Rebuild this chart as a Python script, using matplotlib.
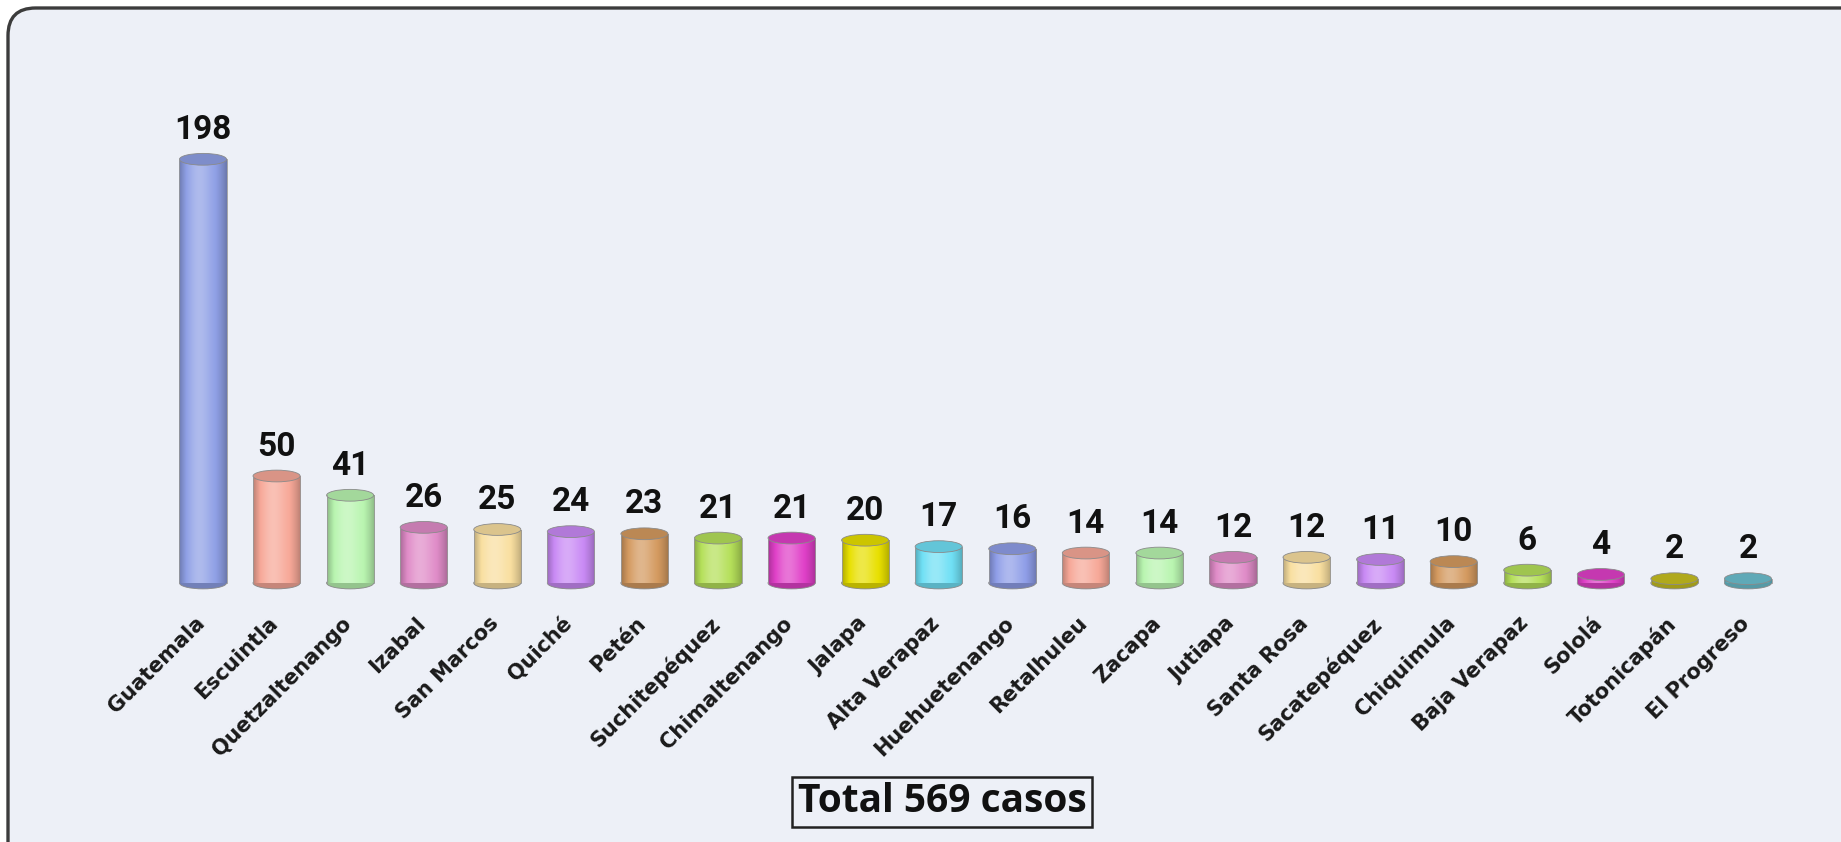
import matplotlib
matplotlib.use("Agg")
import matplotlib.pyplot as plt
import numpy as np
from matplotlib.patches import Ellipse, FancyBboxPatch
from matplotlib.colors import to_rgb

departamentos = ['Guatemala', 'Escuintla', 'Quetzaltenango', 'Izabal', 'San Marcos',
                 'Quiché', 'Petén', 'Suchitepéquez', 'Chimaltenango', 'Jalapa',
                 'Alta Verapaz', 'Huehuetenango', 'Retalhuleu', 'Zacapa', 'Jutiapa',
                 'Santa Rosa', 'Sacatepéquez', 'Chiquimula', 'Baja Verapaz', 'Sololá',
                 'Totonicapán', 'El Progreso']
casos = [198, 50, 41, 26, 25, 24, 23, 21, 21, 20, 17, 16, 14, 14, 12, 12, 11, 10, 6, 4, 2, 2]
colores = ['#8fa0e6', '#f7a898', '#b9f5b0', '#e08cc8', '#f9dfa0', '#c98af5', '#d49a60',
           '#b5e05a', '#e040c8', '#e8e000', '#70e0f5', '#8f9ee8', '#f7a898', '#b9f5b0',
           '#e08cc8', '#f9dfa0', '#c98af5', '#d49a60', '#b5e05a', '#e040c8', '#c8c020',
           '#6cc0d0']
total_texto = 'Total 569 casos'

W, H = 1841, 842
fig = plt.figure(figsize=(W / 100, H / 100), dpi=100)
fig.patch.set_facecolor('white')

# rounded panel, runs off the right and bottom edges
panel = FancyBboxPatch((8 / W, -1.0), 3.0, (H - 8) / H + 1.0,
                       boxstyle='round,pad=0,rounding_size=0.015',
                       transform=fig.transFigure, facecolor='#edf0f7',
                       edgecolor='#3c3c3c', linewidth=2.4, mutation_aspect=W / H,
                       zorder=-5)
fig.patches.append(panel)

ax = fig.add_axes([0, 0, 1, 1])
ax.set_facecolor('none')
ax.axis('off')

dx = 73.57          # px per category
dy = 2.14           # px per case
x0, base = 203, 583  # px position of first bar / baseline (from top)
ax.set_xlim(-x0 / dx, (W - x0) / dx)
ax.set_ylim(-(H - base) / dy, base / dy)

width = 0.64
cap = 5.5
ind = np.arange(len(casos))


def shade(c, k):
    c = np.array(to_rgb(c))
    if k >= 0:
        return c + (1 - c) * k
    return c * (1 + k)


bars = ax.bar(ind, casos, width, color='none', edgecolor='none')
for rect, c, i in zip(bars, colores, ind):
    x = rect.get_x()
    h = rect.get_height()
    # horizontal gradient for the cylinder body
    t = np.linspace(0, 1, 64)
    k = 0.28 * np.exp(-((t - 0.42) / 0.25) ** 2) - 0.25 * (np.abs(t - 0.5) * 2) ** 3
    grad = np.array([np.clip(shade(c, kk), 0, 1) for kk in k])[None, :, :]
    im = ax.imshow(grad, extent=[x, x + width, 0, h], aspect='auto', zorder=2,
                   interpolation='bilinear')
    im.set_clip_path(rect)
    ax.add_patch(Ellipse((i, 0), width, cap, facecolor=shade(c, -0.2),
                         edgecolor='#888888', linewidth=0.6, zorder=1))
    ax.add_patch(Ellipse((i, h), width, cap, facecolor=shade(c, -0.12),
                         edgecolor='#8a8a8a', linewidth=0.6, zorder=3))
    ax.plot([x, x], [0, h], color='#999999', lw=0.6, zorder=3)
    ax.plot([x + width, x + width], [0, h], color='#999999', lw=0.6, zorder=3)

    ax.text(i, h + cap / 2 + 3.5, '%d' % h, ha='center', va='bottom',
            fontsize=24, fontweight='bold', color='#111111', family='Roboto')
    ax.text(i - 0.12, -14, departamentos[i], rotation=45, rotation_mode='anchor',
            ha='right', va='top', fontsize=15, fontweight='bold', color='#1a1a1a',
            family='DejaVu Sans')

ax.text((942 - x0) / dx, -(802 - base) / dy, total_texto, ha='center', va='center',
        fontsize=28, fontweight='bold', color='#111111', family='Open Sans',
        bbox=dict(boxstyle='square,pad=0.15', facecolor='none', edgecolor='#222222', lw=1.8))

fig.savefig('out.png', dpi=100, facecolor=fig.get_facecolor())
